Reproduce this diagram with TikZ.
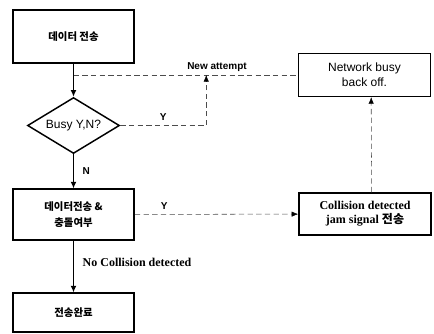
\documentclass[tikz,border=0pt]{standalone}
\usepackage{fontspec}
\setmainfont{Liberation Sans}
\newfontfamily\kr{Noto Sans CJK KR}
\newfontfamily\tms{Liberation Serif}
\usetikzlibrary{shapes.geometric,arrows.meta}
\begin{document}
\begin{tikzpicture}[x=0.75pt,y=-0.75pt,font=\fontsize{9}{11}\selectfont,
  box/.style={draw,line width=1.1pt,minimum width=91pt,inner sep=1pt,align=center,font=\kr\bfseries\fontsize{7.8}{12}\selectfont},
  sidebox/.style={draw,line width=1.1pt,minimum width=99pt,minimum height=32pt,inner sep=1pt,align=center},
  flow/.style={line width=1.1pt,-{Latex[length=5pt,width=4.5pt]}},
  try/.style={thin,black!70,dash pattern=on 4pt off 2.5pt,-{Latex[length=5pt,width=4pt,color=black]}},
  lab/.style={font=\fontsize{7.5}{8}\selectfont\bfseries},
  tlab/.style={font=\tms\fontsize{9}{10.5}\selectfont\bfseries}]
\useasboundingbox (0,0) rectangle (434,333);

\node[box,minimum height=40pt] (send) at (73.5,36.5) {데이터 전송};
\node[draw,diamond,line width=1.1pt,aspect=1.64,minimum width=69pt,minimum height=42pt,inner sep=0pt] (busy) at (73.5,125.5) {Busy Y,N?};
\node[box,minimum height=38pt] (sendcd) at (73.5,214.5) {데이터전송 \&\\충돌여부};
\node[box,minimum height=29pt] (done) at (73.5,312.5) {전송완료};
\node[sidebox] (backoff) at (364.5,75) {Network busy\\back off.};
\node[sidebox,minimum height=31.5pt,tlab] (jam) at (365,214) {Collision detected\\jam signal {\kr 전송}};

\draw[flow] (send) -- (busy);
\coordinate (retry) at (send |- backoff);
\draw[try,-] (retry) -- (backoff);
\node[lab] (newtry) at (217,67) {New attempt};
\path (busy.east) ++(86,0) coordinate (ycorner);
\draw[try] (busy.east) -- node[above,lab,black,pos=0.5] {Y} (ycorner) -- (ycorner |- retry);

\draw[flow] (busy) -- node[right,lab,xshift=3pt] {N} (sendcd);
\draw[try] (sendcd) -- node[above,lab,black,pos=0.18] {Y} (jam);
\draw[try] ([xshift=5pt]jam.north) -- ([xshift=5pt]backoff.south);
\draw[flow] (sendcd) -- node[right,tlab,xshift=3pt,yshift=3pt] {No Collision detected} (done);
\end{tikzpicture}
\end{document}
